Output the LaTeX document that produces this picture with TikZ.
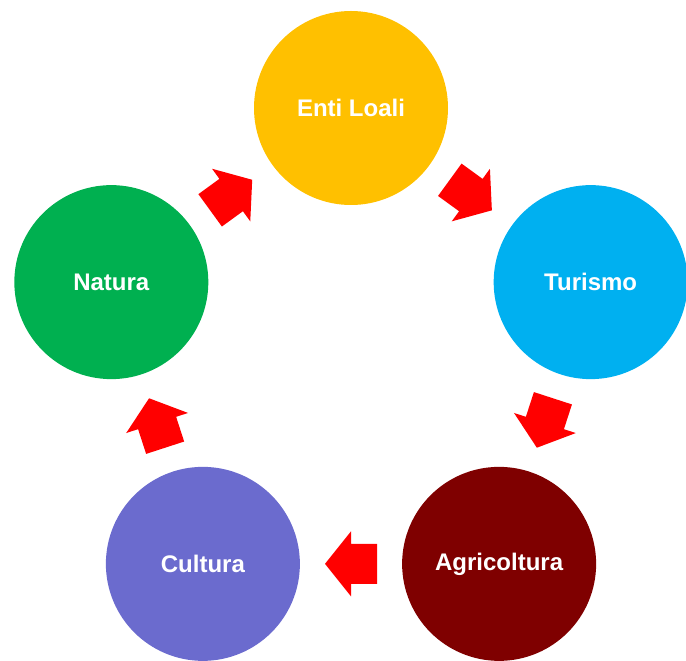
\documentclass[tikz,border=0pt]{standalone}
\usepackage{fontspec}
\setmainfont{Liberation Sans}
\usetikzlibrary{calc}
\definecolor{cEnti}{HTML}{FFC000}
\definecolor{cTur}{HTML}{00B0F0}
\definecolor{cAgr}{HTML}{7F0000}
\definecolor{cCul}{HTML}{6B6BCE}
\definecolor{cNat}{HTML}{00B050}
\definecolor{arrowred}{HTML}{FF0000}
\begin{document}
\begin{tikzpicture}[x=1pt,y=1pt,
  bubble/.style={circle, minimum size=194pt, inner sep=0pt, text=white,
    font=\fontsize{24}{28}\selectfont\bfseries},
  blockarrow/.style={fill=arrowred}]
\useasboundingbox (0,0) rectangle (686,661);
\coordinate (C) at (351,301);
\node[bubble, fill=cEnti] (enti) at ($(C)+(90:252)$) {Enti Loali};
\node[bubble, fill=cTur]  (tur)  at ($(C)+(18:252)$) {Turismo};
\node[bubble, fill=cAgr]  (agr)  at ($(C)+(-54:252)$) {Agricoltura};
\node[bubble, fill=cCul]  (cul)  at ($(C)+(-126:252)$) {Cultura};
\node[bubble, fill=cNat]  (nat)  at ($(C)+(162:252)$) {Natura};
\foreach \a/\b in {nat/enti, enti/tur, tur/agr, agr/cul, cul/nat}{
  \path let \p1=($(\b)-(\a)$), \n1={atan2(\y1,\x1)} in
    coordinate (m) at ($(\a)!0.5!(\b)$)
    [blockarrow, shift={(m)}, rotate=\n1]
    (-26,-20) -- (0,-20) -- (0,-32.5) -- (26,0) -- (0,32.5) -- (0,20) -- (-26,20) -- cycle;
}
\end{tikzpicture}
\end{document}
